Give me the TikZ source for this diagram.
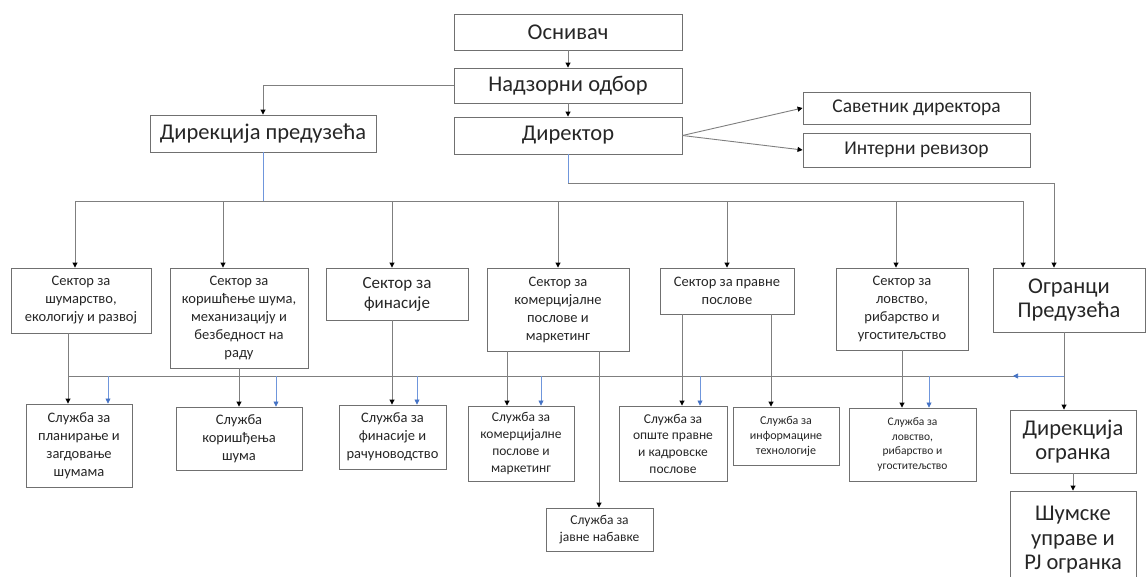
\documentclass[tikz,border=0pt]{standalone}
\usepackage{fontspec}
\setmainfont{Carlito}
\usetikzlibrary{arrows.meta}

\definecolor{lngray}{HTML}{7F7F7F}
\definecolor{boxgray}{HTML}{707070}
\definecolor{bluel}{HTML}{6F96DC}
\definecolor{blued}{HTML}{4472C4}
\newcommand\fbig{\fontsize{22.5}{24.5}\selectfont}
\newcommand\fsav{\fontsize{19.5}{22}\selectfont}
\newcommand\fmid{\fontsize{17}{20}\selectfont}
\newcommand\fsm{\fontsize{14.5}{18}\selectfont}
\newcommand\fxs{\fontsize{13.5}{16.7}\selectfont}
\newcommand\fxxs{\fontsize{12}{15}\selectfont}
\newcommand\ftiny{\fontsize{11.5}{14.5}\selectfont}

\begin{document}
\begin{tikzpicture}[x=1pt,y=-1pt,
  box/.style={draw=boxgray,line width=0.9pt,align=center,inner sep=0pt,text=black!85},
  ln/.style={lngray,line width=0.9pt},
  arr/.style={ln,-{Triangle[length=5pt,width=5pt,color=black]}},
  bln/.style={bluel,line width=0.7pt},
  barr/.style={bln,-{Triangle[length=5pt,width=5pt,color=blued]}}]
  \useasboundingbox (0,0) rectangle (1146,576);
  % vrh
  \node[box,font=\fbig,minimum width=228pt,minimum height=36pt] (osn) at (568,32) {Оснивач};
  \node[box,font=\fbig,minimum width=228pt,minimum height=35pt] (nad) at (568,85.5) {Надзорни одбор};
  \node[box,font=\fbig,minimum width=228pt,minimum height=37pt] (dir) at (568,135.5) {Директор};
  \node[box,font=\fbig,minimum width=226pt,minimum height=37pt] (dirp) at (263,133.5) {Дирекција предузећа};
  \node[box,font=\fsav,minimum width=227pt,minimum height=32pt] (sav) at (916.5,108) {Саветник директора};
  \node[box,font=\fsav,minimum width=227pt,minimum height=34pt] (int) at (916.5,150) {Интерни ревизор};
  % sektori
  \node[box,font=\fsm,minimum width=140pt,minimum height=65pt] (sek1) at (81,300.5) {Сектор за\\шумарство,\\екологију и развој};
  \node[box,font=\fsm,minimum width=138pt,minimum height=100pt] (sek2) at (239,318) {Сектор за\\коришћење шума,\\механизацију и\\безбедност на\\раду};
  \node[box,font=\fmid,minimum width=142pt,minimum height=52pt] (sek3) at (397,294) {Сектор за\\финасије};
  \node[box,font=\fsm,minimum width=142pt,minimum height=83pt] (sek4) at (558,309.5) {Сектор за\\комерцијалне\\послове и\\маркетинг};
  \node[box,font=\fsm,minimum width=134pt,minimum height=46pt] (sek5) at (727,291) {Сектор за правне\\послове};
  \node[box,font=\fsm,minimum width=132pt,minimum height=82pt] (sek6) at (902,309) {Сектор за\\ловство,\\рибарство и\\угоститељство};
  \node[box,font=\fbig,minimum width=152pt,minimum height=64pt] (ogr) at (1069,300) {Огранци\\Предузећа};
  % sluzbe
  \node[box,font=\fsm,minimum width=106pt,minimum height=83pt] (srv1) at (79,445.5) {Служба за\\планирање и\\загдовање\\шумама};
  \node[box,font=\fsm,minimum width=126pt,minimum height=63pt] (srv2) at (239,438.5) {Служба\\коришђења\\шума};
  \node[box,font=\fsm,minimum width=107pt,minimum height=64pt] (srv3) at (392.5,437) {Служба за\\финасије и\\рачуноводство};
  \node[box,font=\fxs,minimum width=106pt,minimum height=75pt] (srv4) at (521,443.5) {Служба за\\комерцијалне\\послове и\\маркетинг};
  \node[box,font=\fxs,minimum width=108pt,minimum height=75pt] (srv5) at (673,443.5) {Служба за\\опште правне\\и кадровске\\послове};
  \node[box,font=\fxxs,minimum width=106pt,minimum height=58pt] (srv6) at (786,436) {Служба за\\информацине\\технологије};
  \node[box,font=\fxs,minimum width=107pt,minimum height=43pt] (srv7) at (599.5,529.5) {Служба за\\јавне набавке};
  \node[box,font=\ftiny,minimum width=127pt,minimum height=73pt] (srv8) at (912.5,444.5) {Служба за\\ловство,\\рибарство и\\угоститељство};
  \node[box,font=\fbig,minimum width=126pt,minimum height=63pt] (diro) at (1073,441.5) {Дирекција\\огранка};
  \node[box,font=\fbig,minimum width=126pt,minimum height=98pt] (sum) at (1073,540) {Шумске\\управе и\\PJ огранка};
  % veze gore
  \draw[arr] (osn) -- (nad);
  \draw[arr] (nad) -- (dir);
  \draw[arr] (nad.west) -| (dirp.north);
  \draw[arr] (dir.east) -- (sav.west);
  \draw[arr] (dir.east) -- (int.west);
  \coordinate (k1) at ([yshift=-29pt]dir.south);
  \draw[bln] (dir.south) -- (k1);
  \draw[arr] (k1) -| ([xshift=-15pt]ogr.north);
  % sabirnica sektora
  \coordinate (busL) at (75,201);
  \coordinate (busR) at (1023,201);
  \draw[bln] (dirp.south) -- (dirp.south |- busL);
  \draw[ln] (busL) -- (busR);
  \draw[arr] (busL) -- (busL |- sek1.north);
  \draw[arr] ([xshift=-16pt]sek2.north |- busL) -- ([xshift=-16pt]sek2.north);
  \draw[arr] ([xshift=-5pt]sek3.north |- busL) -- ([xshift=-5pt]sek3.north);
  \draw[arr] (sek4.north |- busL) -- (sek4.north);
  \draw[arr] (sek5.north |- busL) -- (sek5.north);
  \draw[arr] ([xshift=-6pt]sek6.north |- busL) -- ([xshift=-6pt]sek6.north);
  \draw[arr] (busR) -- (busR |- ogr.north);
  % sektori -> sluzbe
  \coordinate (busBL) at (68,376);
  \coordinate (busBR) at ([xshift=-5pt]ogr.south |- busBL);
  \draw[ln] (busBL) -- (busBR);
  \draw[barr] (busBR) -- ++(-51,0);
  \draw[arr] ([xshift=-13pt]sek1.south) -- ([xshift=-13pt]sek1.south |- srv1.north);
  \draw[arr] (sek2.south) -- (sek2.south |- srv2.north);
  \draw[arr] ([xshift=-5pt]sek3.south) -- ([xshift=-5pt]sek3.south |- srv3.north);
  \draw[arr] ([xshift=-51pt]sek4.south) -- ([xshift=-51pt]sek4.south |- srv4.north);
  \draw[arr] ([xshift=41pt]sek4.south) -- ([xshift=41pt]sek4.south |- srv7.north);
  \draw[arr] ([xshift=-45pt]sek5.south) -- ([xshift=-45pt]sek5.south |- srv5.north);
  \draw[arr] ([xshift=44pt]sek5.south) -- ([xshift=44pt]sek5.south |- srv6.north);
  \draw[arr] (sek6.south) -- (sek6.south |- srv8.north);
  \draw[arr] ([xshift=-5pt]ogr.south) -- ([xshift=-5pt]ogr.south |- diro.north);
  \draw[arr] (diro) -- (sum);
  % plave strelice
  \draw[barr] ([xshift=29pt]srv1.north |- busBL) -- ([xshift=29pt]srv1.north);
  \draw[barr] ([xshift=37pt]srv2.north |- busBL) -- ([xshift=37pt]srv2.north);
  \draw[barr] ([xshift=24.5pt]srv3.north |- busBL) -- ([xshift=24.5pt]srv3.north);
  \draw[barr] ([xshift=20pt]srv4.north |- busBL) -- ([xshift=20pt]srv4.north);
  \draw[barr] ([xshift=27pt]srv5.north |- busBL) -- ([xshift=27pt]srv5.north);
  \draw[barr] ([xshift=16.5pt]srv8.north |- busBL) -- ([xshift=16.5pt]srv8.north);
\end{tikzpicture}
\end{document}
